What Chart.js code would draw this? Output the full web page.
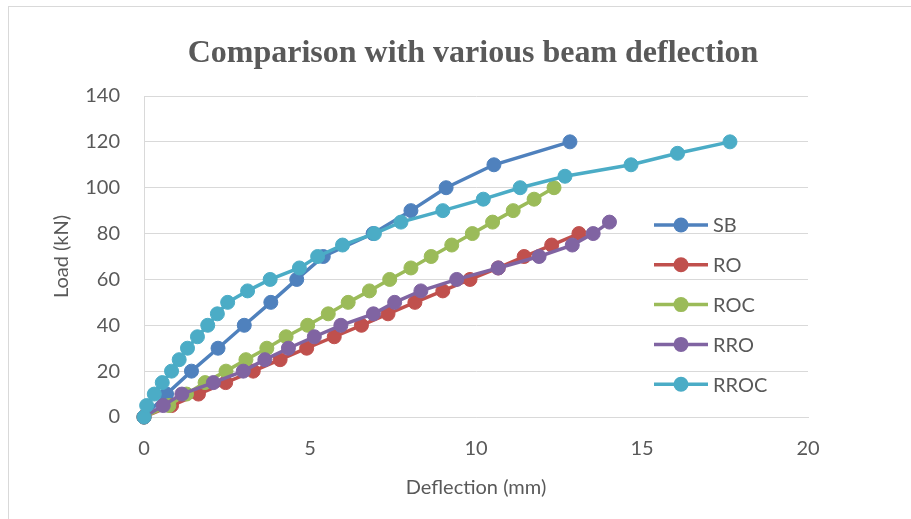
<!DOCTYPE html>
<html>
<head>
<meta charset="utf-8">
<script src="https://cdn.jsdelivr.net/npm/chart.js@4/dist/chart.umd.min.js"></script>
<style>
  body { margin: 0; background: #fff; }
  #wrap { position: relative; width: 911px; height: 519px; overflow: hidden; }
  #frame { position: absolute; left: 8px; top: 6px; width: 950px; height: 560px; border: 1px solid #d9d9d9; }
  #chart { position: absolute; left: 0; top: 0; }
</style>
</head>
<body>
<div id="wrap">
  <div id="frame"></div>
  <canvas id="chart" width="911" height="519"></canvas>
</div>
<script>
// series names and colours
var seriesNames = ['SB', 'RO', 'ROC', 'RRO', 'RROC'];
var seriesColors = ['#4f81bd', '#c0504d', '#9bbb59', '#8064a2', '#4bacc6'];

// deflection (mm) / load (kN)
var sbDefl = [0, 0.68, 1.43, 2.23, 3.02, 3.82, 4.6, 5.4, 6.9, 8.04, 9.1, 10.54, 12.83];
var sbLoad = [0, 10, 20, 30, 40, 50, 60, 70, 80, 90, 100, 110, 120];

var roDefl = [0, 0.83, 1.64, 2.46, 3.29, 4.1, 4.9, 5.73, 6.55, 7.35, 8.16, 9.0, 9.82, 10.67, 11.45, 12.28, 13.1];
var roLoad = [0, 5, 10, 15, 20, 25, 30, 35, 40, 45, 50, 55, 60, 65, 70, 75, 80];

var rocDefl = [0, 0.75, 1.28, 1.84, 2.47, 3.07, 3.7, 4.28, 4.93, 5.55, 6.15, 6.79, 7.4, 8.04, 8.65, 9.27, 9.89, 10.5, 11.12, 11.75, 12.35];
var rocLoad = [0, 5, 10, 15, 20, 25, 30, 35, 40, 45, 50, 55, 60, 65, 70, 75, 80, 85, 90, 95, 100];

var rroDefl = [0, 0.58, 1.14, 2.09, 2.99, 3.64, 4.35, 5.13, 5.93, 6.91, 7.55, 8.34, 9.42, 10.67, 11.9, 12.9, 13.53, 14.02];
var rroLoad = [0, 5, 10, 15, 20, 25, 30, 35, 40, 45, 50, 55, 60, 65, 70, 75, 80, 85];

var rrocDefl = [0, 0.08, 0.31, 0.55, 0.83, 1.06, 1.31, 1.61, 1.92, 2.21, 2.52, 3.12, 3.8, 4.68, 5.23, 5.98, 6.94, 7.74, 9.0, 10.22, 11.33, 12.68, 14.67, 16.07, 17.65];
var rrocLoad = [0, 5, 10, 15, 20, 25, 30, 35, 40, 45, 50, 55, 60, 65, 70, 75, 80, 85, 90, 95, 100, 105, 110, 115, 120];

var allDefl = [sbDefl, roDefl, rocDefl, rroDefl, rrocDefl];
var allLoad = [sbLoad, roLoad, rocLoad, rroLoad, rrocLoad];

var textColor = '#595959';
var gridColor = '#d9d9d9';
var tickFont = { family: 'Lato', size: 20 };

function toPoints(xs, ys) {
  var pts = [];
  for (var i = 0; i < xs.length; i++) {
    pts.push({ x: xs[i], y: ys[i] });
  }
  return pts;
}

var datasets = [];
for (var i = 0; i < seriesNames.length; i++) {
  datasets.push({
    label: seriesNames[i],
    data: toPoints(allDefl[i], allLoad[i]),
    borderColor: seriesColors[i],
    backgroundColor: seriesColors[i],
    borderWidth: 3.5,
    pointRadius: 7,
    pointBorderWidth: 1,
    pointBackgroundColor: seriesColors[i],
    pointBorderColor: seriesColors[i],
    showLine: true,
    tension: 0,
    clip: false,
    yAxisID: 'y',
    order: seriesNames.length - i   // later series on top, like the original
  });
}

// legend sitting inside the plot, on the right
var sideLegend = {
  id: 'sideLegend',
  afterDraw: function(chart) {
    var ctx = chart.ctx;
    var x0 = 654, y0 = 225, step = 39.8;
    ctx.save();
    for (var i = 0; i < chart.data.datasets.length; i++) {
      var ds = chart.data.datasets[i];
      var y = y0 + i * step;
      ctx.strokeStyle = ds.borderColor;
      ctx.lineWidth = 3.5;
      ctx.beginPath();
      ctx.moveTo(x0, y);
      ctx.lineTo(x0 + 54, y);
      ctx.stroke();
      ctx.fillStyle = ds.borderColor;
      ctx.beginPath();
      ctx.arc(x0 + 27, y, 7.5, 0, Math.PI * 2);
      ctx.fill();
      ctx.fillStyle = textColor;
      ctx.font = '20px Lato';
      ctx.textBaseline = 'middle';
      ctx.textAlign = 'left';
      ctx.fillText(ds.label, x0 + 59, y + 1);
    }
    ctx.restore();
  }
};

var ctx = document.getElementById('chart');
var chart = new Chart(ctx, {
  type: 'scatter',
  data: { datasets: datasets },
  plugins: [sideLegend],
  options: {
    responsive: false,
    animation: false,
    layout: { padding: { left: 35, right: 0, top: 0, bottom: 19 } },
    plugins: {
      legend: { display: false },
      tooltip: { enabled: false },
      title: {
        display: true,
        text: 'Comparison with various beam deflection',
        color: textColor,
        font: { family: 'Liberation Serif', size: 32, weight: 'bold' },
        padding: { top: 35, bottom: 22.6 }
      }
    },
    scales: {
      x: {
        type: 'linear',
        min: 0,
        max: 20,
        ticks: { stepSize: 5, color: textColor, font: tickFont, padding: 20, maxRotation: 0 },
        grid: { display: false, drawTicks: false },
        border: { display: true, color: gridColor, width: 1 },
        title: { display: true, text: 'Deflection (mm)', color: textColor, font: tickFont, padding: 0 },
        afterFit: function(scale) { scale.height = 83; }
      },
      y: {
        min: 0,
        max: 140,
        ticks: { stepSize: 20, color: textColor, font: tickFont, padding: 24 },
        grid: { color: gridColor, lineWidth: 1, drawTicks: false },
        border: { display: true, color: gridColor, width: 1 },
        title: { display: true, text: 'Load (kN)', color: textColor, font: tickFont, padding: { top: 15, bottom: 0 } },
        afterFit: function(scale) { scale.width = 109; }
      },
      // empty right-hand box, only to leave the margin right of the plot
      yRight: {
        position: 'right',
        min: 0,
        max: 140,
        ticks: { display: false },
        grid: { display: false, drawTicks: false },
        border: { display: false },
        afterFit: function(scale) { scale.width = 103; }
      }
    }
  }
});
</script>
</body>
</html>
